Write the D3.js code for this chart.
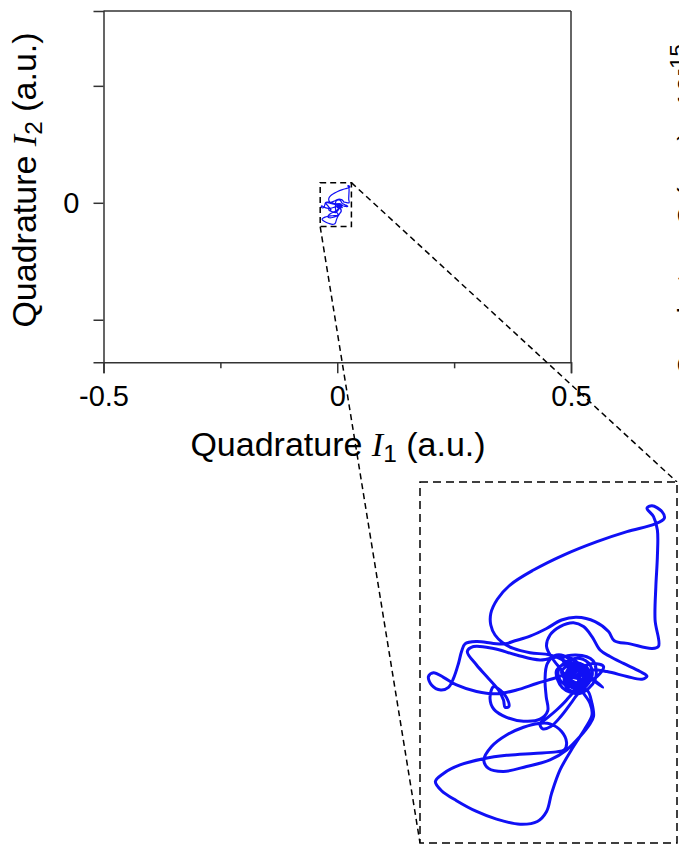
<!DOCTYPE html>
<html>
<head>
<meta charset="utf-8">
<script src="https://cdn.jsdelivr.net/npm/d3@7"></script>
<style>
  html, body { margin: 0; padding: 0; background: #fff; overflow: hidden; }
  svg { display: block; }
  text { font-family: "Liberation Sans", Arial, Helvetica, sans-serif; fill: #000; }
</style>
</head>
<body>
<svg id="chart" width="679" height="845"></svg>
<script>
// ---------- DATA ----------
// trajectory in the (I1, I2) plane, values in units of 1e-3 a.u.
const unitScale = 1e-3;
const I1_milli = [
  3.4, 6.0, 8.6, 11.2, 9.5, 6.0, 2.5, -0.1, -0.5, 1.6, 5.1, 7.7, 8.2, 6.0, 3.4, 1.2, 0.8,
  -1.8, -3.6, -2.7, -0.1, 3.4, 6.0, 8.2, 10.3, 12.9, 16.4, 20.7, 22.5, 21.2, 17.3, 12.1, 7.7, 4.2,
  1.6, 0.3, 2.5, 5.5, 6.4, 4.2, 2.1, 2.9, 4.7,
  1.6, -2.7, -7.9, -12.2, -15.0, -17.0, -18.1, -18.1, -16.4, -13.1, -7.0, 0.8, 9.5, 17.3, 24.6,
  27.0, 26.4, 23.8, 22.5, 24.2, 25.2, 25.2, 24.8, 24.6, 25.5, 23.8, 18.1, 14.0, 12.5, 9.0, 4.2,
  0.3, -3.6, -7.9, -11.8, -14.4,
  -17.4, -21.8, -24.8, -25.7, -26.5, -27.8, -29.1, -31.1, -33.5, -34.3, -33.0, -30.4, -27.0,
  -21.8, -16.6, -11.4, -6.2, -1.8, 1.6, 4.2, 6.8, 5.1, 2.5, 3.8, 6.4,
  1.6, -5.3, -11.4, -17.4, -22.6, -24.2, -21.8, -18.7, -16.1, -14.8, -14.4, -13.4, -14.0, -15.7,
  -17.4, -18.3, -17.3, -14.0, -9.6, -5.3, -3.3, -3.7, -4.0, -3.4, -1.0, 2.1, 3.8,
  6.0, 3.4, 1.5, 4.2, 7.3, 6.2, 2.9, 5.3,
  4.2, 1.6, -1.0, -3.6, -5.3, -4.6, -2.5, 0.1, 2.7, 4.9, 7.0, 8.2, 8.6, 7.5, 5.1, 1.6, -2.7,
  -8.8, -14.8, -18.7, -19.9, -17.9, -14.0, -9.6, -5.7, -2.7, 0.3, 1.6, 1.0, -1.1, -7.0, -14.0,
  -20.0, -26.1, -30.4, -32.5, -30.9, -27.0, -21.8, -16.6, -10.5, -6.0, -3.6, -2.3, -0.1, 3.4,
  6.4, 8.2, 7.7, 6.0, 4.2,
  1.6, 3.4, 6.4, 7.7, 5.1, 2.5, 2.5, 5.1, 6.8, 11.0,
  8.0, 4.0, 2.0, 5.5, 7.5, 4.5, 2.0, 4.5,
  0.5, 4.0, 8.5, 9.0, 5.0, 0.5, -1.0, 3.0, 7.0, 6.5, 3.0, 1.0, 4.0, 6.0
];
const I2_milli = [
  -6.8, -5.0, -4.2, -5.0, -7.6, -9.4, -10.2, -8.5, -5.9, -3.7, -2.9, -4.6, -7.6, -10.7, -11.5, -9.8, -6.8,
  -3.3, 0.2, 3.2, 5.4, 6.4, 5.4, 2.8, -0.7, -2.4, -4.2, -6.3, -7.5, -8.3, -7.6, -6.3, -5.9, -7.2,
  -8.5, -6.3, -4.6, -5.5, -8.1, -9.8, -8.5, -5.9, -5.0,
  -3.7, -2.0, -1.4, -0.3, 1.2, 3.2, 5.8, 8.8, 12.5, 16.2, 20.1, 24.0, 27.5, 30.1, 32.1,
  33.6, 35.3, 36.8, 36.2, 34.0, 30.5, 23.6, 15.8, 7.1, 0.3, -0.3, 0.9, 1.7, 4.1, 6.7, 7.8,
  7.1, 4.9, 2.9, 1.7, 0.9,
  1.0, 1.5, 0.9, -1.1, -4.2, -8.1, -10.4, -11.1, -9.8, -7.6, -6.6, -7.8, -9.8,
  -11.5, -12.1, -11.1, -9.4, -8.1, -6.9, -5.9, -6.8, -9.4, -8.1, -5.5, -5.9,
  -2.4, -3.3, -2.0, -0.3, 0.2, -1.1, -4.6, -8.1, -11.1, -13.7, -15.6, -15.4, -13.1, -11.1,
  -10.2, -13.3, -16.1, -18.2, -19.2, -18.7, -16.5, -12.8, -8.5, -4.2, -2.0, -2.9, -5.5,
  -7.6, -9.4, -6.9, -4.0, -5.9, -8.7, -6.8, -4.6,
  -10.2, -13.7, -16.3, -18.5, -19.9, -21.2, -20.6, -18.0, -14.6, -11.8, -11.3, -14.6, -18.0, -20.2, -23.2, -26.7, -29.3,
  -31.0, -32.3, -31.5, -29.3, -25.8, -22.8, -20.8, -19.8, -19.9, -21.9, -24.8, -26.7, -27.2, -27.6, -28.1,
  -29.0, -30.6, -32.8, -34.9, -37.3, -39.9, -42.7, -44.7, -46.0, -45.3, -42.7, -38.0, -31.9, -25.8,
  -21.1, -17.6, -14.6, -12.0, -9.8,
  -7.6, -5.0, -5.5, -8.1, -9.8, -8.5, -6.3, -5.5, -7.2, -10.4,
  -8.0, -6.0, -9.0, -10.5, -6.5, -4.5, -7.0, -8.0,
  -3.0, -2.0, -3.5, -8.5, -12.0, -10.5, -6.0, -4.0, -6.0, -10.0, -10.5, -7.5, -5.0, -8.0
];

// axes
const xDomain = [-0.5, 0.5];
const yDomain = [-0.341, 0.41];
const xMajorTicks = [-0.5, 0, 0.5];
const xMinorTicks = [-0.25, 0.25];
const yTicks = [-0.25, 0, 0.25];
const yTickLabels = {"0": "0"};
// zoom window (a.u.)
const zoomI1 = [-0.0365, 0.0303];
const zoomI2 = [-0.0509, 0.043];

// ---------- DRAW ----------
const svg = d3.select("#chart");
const pts = I1_milli.map((v, i) => [v * unitScale, I2_milli[i] * unitScale]);

const plot = {left: 103.5, right: 571, top: 11, bottom: 362.3};
const x = d3.scaleLinear().domain(xDomain).range([plot.left, plot.right]);
const y = d3.scaleLinear().domain(yDomain).range([plot.bottom, plot.top]);

const inset = {left: 420, right: 677, top: 482, bottom: 843};
const xi = d3.scaleLinear().domain(zoomI1).range([inset.left, inset.right]);
const yi = d3.scaleLinear().domain(zoomI2).range([inset.bottom, inset.top]);

const axisColor = "#333";

const gx = svg.append("g").attr("transform", `translate(0,${plot.bottom})`)
  .call(d3.axisBottom(x).tickValues(xMajorTicks).tickSize(11).tickPadding(12)
    .tickFormat(d => String(d)));
const gx2 = svg.append("g").attr("transform", `translate(0,${plot.bottom})`)
  .call(d3.axisBottom(x).tickValues(xMinorTicks).tickSize(6).tickFormat(""));
const gy = svg.append("g").attr("transform", `translate(${plot.left},0)`)
  .call(d3.axisLeft(y).tickValues(yTicks).tickSize(10).tickPadding(14)
    .tickFormat(d => yTickLabels[String(d)] || ""));
[gx, gx2, gy].forEach(g => {
  g.select(".domain").attr("stroke", axisColor).attr("stroke-width", 1.5);
  g.selectAll(".tick line").attr("stroke", axisColor).attr("stroke-width", 1.5);
  g.selectAll(".tick text").attr("font-size", 29)
    .attr("font-family", "'Liberation Sans', Arial, sans-serif").attr("fill", "#000");
});
gx2.select(".domain").remove();
svg.append("line").attr("x1", x(xDomain[0])).attr("x2", x(xDomain[1]))
  .attr("y1", y(yDomain[1])).attr("y2", y(yDomain[1]))
  .attr("stroke", axisColor).attr("stroke-width", 1.5);
svg.append("line").attr("x1", x(xDomain[1])).attr("x2", x(xDomain[1]))
  .attr("y1", y(yDomain[0])).attr("y2", y(yDomain[1]))
  .attr("stroke", axisColor).attr("stroke-width", 1.5);

function title(sel, sub) {
  sel.append("tspan").text("Quadrature ");
  sel.append("tspan").attr("font-family", "'Liberation Serif', 'DejaVu Serif', serif")
    .attr("font-style", "italic").text("I");
  sel.append("tspan").attr("font-size", "0.72em").attr("dy", "0.25em").text(sub);
  sel.append("tspan").attr("dy", "-0.18em").text(" (a.u.)");
}
const xt = svg.append("text").attr("x", 338).attr("y", 456)
  .attr("text-anchor", "middle").attr("font-size", 34);
title(xt, "1");
const yt = svg.append("text").attr("transform", "translate(36,180) rotate(-90)")
  .attr("text-anchor", "middle").attr("font-size", 34);
title(yt, "2");

// neighbouring panel label (only its edge shows at the right border)
const rt = svg.append("text").attr("transform", "translate(697,210) rotate(-90)")
  .attr("text-anchor", "middle").attr("font-size", 28);
rt.append("tspan").text("Quadrature Q (a.u.) ×10");
rt.append("tspan").attr("font-size", 22).attr("dy", -12).text("-15");

const line = d3.line().curve(d3.curveCatmullRom.alpha(0.5));
svg.append("path")
  .attr("d", line(pts.map(p => [x(p[0]), y(p[1])])))
  .attr("fill", "none").attr("stroke", "#1010f5").attr("stroke-width", 1.2);

const dash = "6,4";
svg.append("rect")
  .attr("x", x(zoomI1[0])).attr("y", y(zoomI2[1]))
  .attr("width", x(zoomI1[1]) - x(zoomI1[0])).attr("height", y(zoomI2[0]) - y(zoomI2[1]))
  .attr("fill", "none").attr("stroke", "#000").attr("stroke-width", 1.5).attr("stroke-dasharray", dash);
svg.append("line").attr("x1", x(zoomI1[1])).attr("y1", y(zoomI2[1]))
  .attr("x2", inset.right).attr("y2", inset.top)
  .attr("stroke", "#000").attr("stroke-width", 1.5).attr("stroke-dasharray", dash);
svg.append("line").attr("x1", x(zoomI1[0])).attr("y1", y(zoomI2[0]))
  .attr("x2", inset.left).attr("y2", inset.bottom)
  .attr("stroke", "#000").attr("stroke-width", 1.5).attr("stroke-dasharray", dash);

svg.append("rect").attr("x", inset.left).attr("y", inset.top)
  .attr("width", inset.right - inset.left).attr("height", inset.bottom - inset.top)
  .attr("fill", "#fff").attr("stroke", "#000").attr("stroke-width", 1.5)
  .attr("stroke-dasharray", "8,5");
svg.append("clipPath").attr("id", "insetClip").append("rect")
  .attr("x", inset.left).attr("y", inset.top)
  .attr("width", inset.right - inset.left).attr("height", inset.bottom - inset.top);
svg.append("path").attr("clip-path", "url(#insetClip)")
  .attr("d", line(pts.map(p => [xi(p[0]), yi(p[1])])))
  .attr("fill", "none").attr("stroke", "#1010f5").attr("stroke-width", 3)
  .attr("stroke-linejoin", "round");
</script>
</body>
</html>
